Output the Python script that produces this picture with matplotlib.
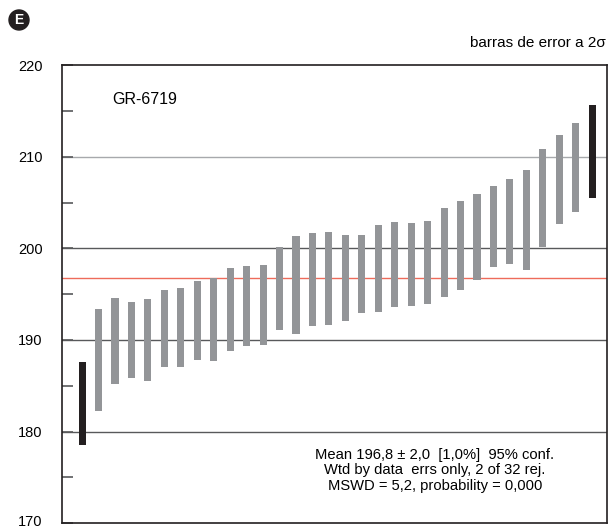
import matplotlib
matplotlib.use('Agg')
import matplotlib.pyplot as pyplot
from matplotlib.patches import Ellipse
import matplotlib.transforms as mtransforms
import numpy

pyplot.rcParams['font.family'] = ['Liberation Sans', 'DejaVu Sans']

# ages (Ma), 2 sigma intervals, sorted by age
low = [178.5, 182.2, 185.2, 185.8, 185.5, 187.1, 187.1, 187.8, 187.7, 188.8,
       189.3, 189.4, 191.1, 190.6, 191.5, 191.6, 192.1, 192.9, 193.0, 193.6,
       193.7, 193.9, 194.7, 195.5, 196.5, 198.0, 198.3, 197.6, 200.2, 202.7,
       204.0, 205.5]
high = [187.6, 193.4, 194.6, 194.1, 194.5, 195.4, 195.7, 196.4, 196.8, 197.9,
        198.1, 198.2, 200.2, 201.3, 201.7, 201.8, 201.5, 201.5, 202.5, 202.9,
        202.8, 203.0, 204.4, 205.2, 205.9, 206.8, 207.6, 208.6, 210.8, 212.4,
        213.7, 215.6]
rejected = [1, 32]
mean_age = 196.8
sample = 'GR-6719'
grid_vals = [180, 190, 200, 210]

n = len(low)
xs = numpy.arange(1, n + 1)
heights = numpy.array(high) - numpy.array(low)
cols = ['#231f20' if i in rejected else '#939598' for i in xs]

fig = pyplot.figure(figsize=(6.11, 5.30), dpi=100)
ax = fig.add_axes([0.1015, 0.013, 0.892, 0.864])

for g in grid_vals:
	c = '#a7a9ac' if g == 210 else '#58595b'
	ax.axhline(g, color=c, lw=1.0, zorder=1)
ax.axhline(mean_age, color='#ee6b5b', lw=1.0, zorder=1)

ax.bar(xs, heights, bottom=low, width=0.43, color=cols, zorder=2)

ax.set_xlim(-0.22, 32.9)
ax.set_ylim(170, 220)
ax.set_xticks([])
ax.set_yticks(numpy.arange(170, 221, 10))
ax.set_yticks(numpy.arange(175, 220, 10), minor=True)
ax.tick_params(axis='y', which='both', direction='in', length=8, width=1.2,
               color='#58595b', pad=14, labelsize=10.5)
for s in ax.spines.values():
	s.set_color('#231f20')
	s.set_linewidth(1.2)

# lift the bottom label a little so it stays inside the figure
lab = ax.get_yticklabels()[0]
lab.set_transform(lab.get_transform() +
                  mtransforms.ScaledTranslation(0, 2 / 72, fig.dpi_scale_trans))

ax.text(0.093, 0.925, sample, transform=ax.transAxes, fontsize=11.5,
        ha='left', va='center')
ax.text(0.684, 0.115, 'Mean 196,8 \u00b1 2,0  [1,0%]  95% conf.\n'
        'Wtd by data  errs only, 2 of 32 rej.\n'
        'MSWD = 5,2, probability = 0,000',
        transform=ax.transAxes, fontsize=10.6, ha='center', va='center',
        linespacing=1.15)

fig.text(0.992, 0.919, 'barras de error a 2\u03c3', fontsize=11,
         ha='right', va='center')
fig.add_artist(Ellipse((0.0311, 0.9623), 20 / 611, 20 / 530,
                       transform=fig.transFigure, color='#231f20'))
fig.text(0.0311, 0.9623, 'E', fontsize=10, fontweight='bold', color='white',
         ha='center', va='center')

fig.savefig('out.png', dpi=100)
